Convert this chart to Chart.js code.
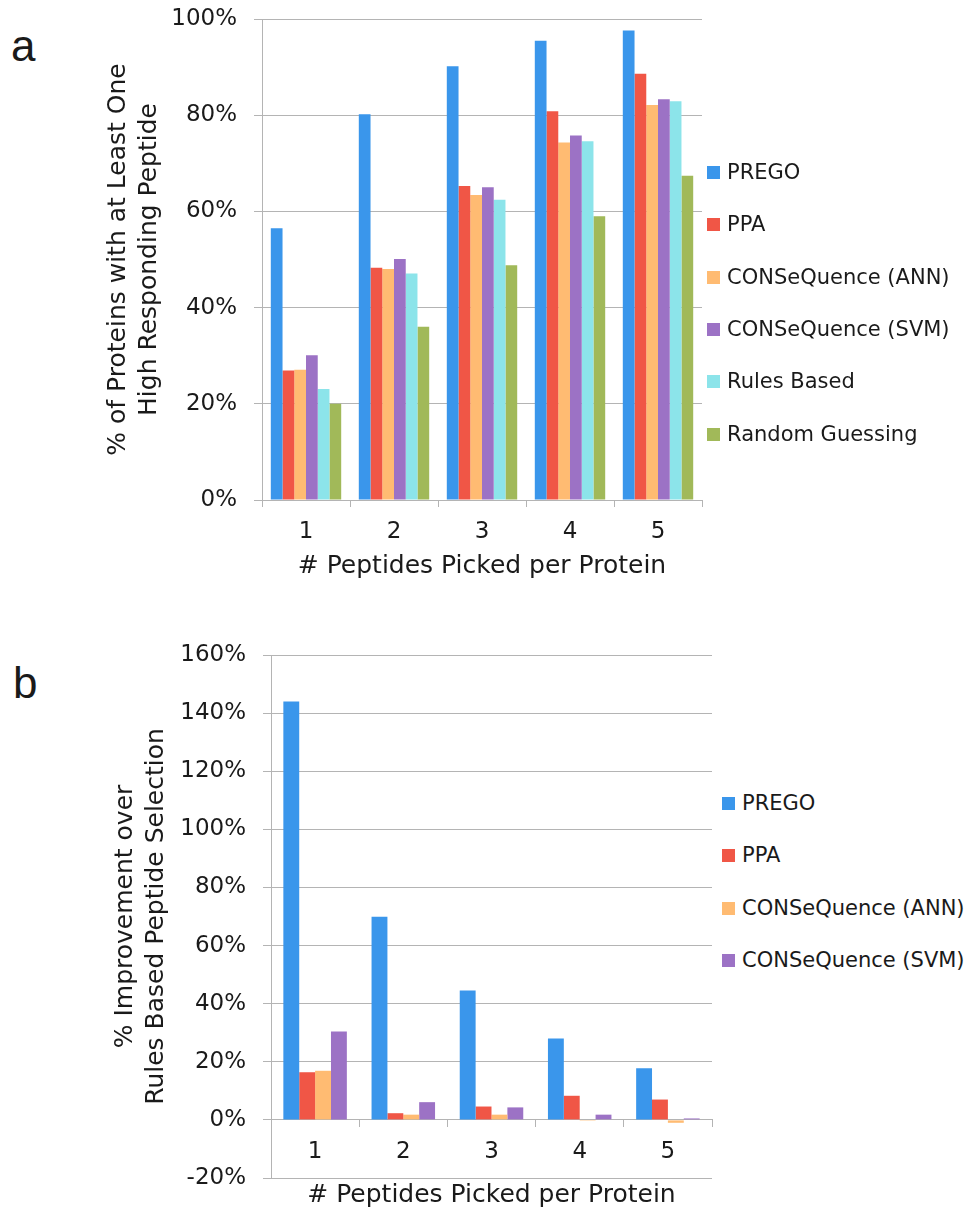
<!DOCTYPE html>
<html>
<head>
<meta charset="utf-8">
<script src="https://cdn.jsdelivr.net/npm/chart.js@4.4.1/dist/chart.umd.min.js"></script>
<style>
  body { margin: 0; background: #fff; width: 968px; height: 1213px; position: relative; overflow: hidden; font-family: "DejaVu Sans", sans-serif; color: #1a1a1a; }
  canvas { position: absolute; left: 0; }
  .panel { position: absolute; font-size: 44px; line-height: 1; font-family: "Liberation Sans", Arial, sans-serif; }
  .legend { position: absolute; font-size: 21px; }
  .legend div { position: absolute; left: 0; white-space: nowrap; height: 26px; line-height: 26px; }
  .legend span { display: inline-block; width: 13px; height: 13px; margin-right: 7px; vertical-align: 0px; }
</style>
</head>
<body>
<div class="panel" style="left:11px;top:24px">a</div>
<div class="panel" style="left:13px;top:661px">b</div>
<canvas id="chartA" width="720" height="600" style="top:0"></canvas>
<canvas id="chartB" width="720" height="583" style="top:630px"></canvas>
<div class="legend" id="legendA" style="left:707px;top:159px"></div>
<div class="legend" id="legendB" style="left:722px;top:790px"></div>
<script>
const categories = ['1', '2', '3', '4', '5'];
const seriesNames = ['PREGO', 'PPA', 'CONSeQuence (ANN)', 'CONSeQuence (SVM)', 'Rules Based', 'Random Guessing'];
const seriesColors = ['#3a96eb', '#f05646', '#ffbb72', '#9c72c5', '#8ce4ea', '#a1b959'];

// panel a: % of proteins with at least one high responding peptide
const pregoA = [56.5, 80.2, 90.2, 95.5, 97.6];
const ppaA = [26.9, 48.3, 65.3, 80.8, 88.6];
const annA = [27.1, 48.0, 63.4, 74.3, 82.1];
const svmA = [30.1, 50.1, 65.0, 75.8, 83.3];
const rulesA = [23.1, 47.1, 62.4, 74.6, 82.9];
const randomA = [20.0, 36.0, 48.8, 59.0, 67.4];

// panel b: % improvement over rules based selection
const pregoB = [144.0, 69.9, 44.5, 28.0, 17.8];
const ppaB = [16.4, 2.3, 4.6, 8.3, 7.0];
const annB = [16.9, 1.8, 1.8, -0.3, -1.0];
const svmB = [30.4, 6.1, 4.3, 1.8, 0.5];

const gridColor = '#b4b4b4';
const textColor = '#1a1a1a';
const fontFamily = '"DejaVu Sans", sans-serif';

function makeSets(arrays) {
  return arrays.map((d, i) => ({
    label: seriesNames[i],
    data: d,
    backgroundColor: seriesColors[i],
    borderWidth: 0
  }));
}

function buildLegend(id, count) {
  const el = document.getElementById(id);
  for (let i = 0; i < count; i++) {
    const row = document.createElement('div');
    row.style.top = (i * 52.3) + 'px';
    row.innerHTML = '<span style="background:' + seriesColors[i] + '"></span>' + seriesNames[i];
    el.appendChild(row);
  }
}

function chartOptions(o) {
  return {
    responsive: false,
    animation: false,
    devicePixelRatio: 1,
    layout: { padding: o.padding },
    plugins: { legend: { display: false }, tooltip: { enabled: false } },
    datasets: { bar: { categoryPercentage: o.catPct, barPercentage: 1.0 } },
    scales: {
      x: {
        position: o.xPos,
        grid: { drawOnChartArea: false, drawTicks: true, tickLength: 7, color: gridColor, offset: true },
        border: { display: true, color: gridColor },
        ticks: { color: textColor, padding: 11, font: { family: fontFamily, size: 23 } },
        title: { display: true, text: '# Peptides Picked per Protein', color: textColor,
                 font: { family: fontFamily, size: 25 }, padding: o.xTitlePad },
        afterFit: s => { s.height = o.xHeight; }
      },
      y: {
        min: o.min, max: o.max,
        ticks: { stepSize: 20, color: textColor, padding: 17,
                 font: { family: fontFamily, size: 23 }, callback: v => v + '%' },
        grid: { color: gridColor, tickLength: 8 },
        border: { display: true, color: gridColor },
        title: { display: true, text: o.yTitle, color: textColor,
                 font: { family: fontFamily, size: 25, lineHeight: 1.25 }, padding: { top: o.yTitlePad, bottom: 0 } },
        afterFit: s => { s.width = o.yWidth; s.paddingTop = 0; s.paddingBottom = 0; }
      }
    }
  };
}

new Chart(document.getElementById('chartA'), {
  type: 'bar',
  data: { labels: categories, datasets: makeSets([pregoA, ppaA, annA, svmA, rulesA, randomA]) },
  options: chartOptions({
    padding: { top: 19, right: 18, bottom: 0, left: 0 },
    catPct: 0.8, xPos: 'bottom', xHeight: 100, xTitlePad: { top: 0, bottom: 19 },
    min: 0, max: 100, yWidth: 262, yTitlePad: 103,
    yTitle: ['% of Proteins with at Least One', 'High Responding Peptide']
  })
});

new Chart(document.getElementById('chartB'), {
  type: 'bar',
  data: { labels: categories, datasets: makeSets([pregoB, ppaB, annB, svmB]) },
  options: chartOptions({
    padding: { top: 25, right: 8, bottom: 35, left: 0 },
    catPct: 0.72, xPos: { y: 0 }, xHeight: 91, xTitlePad: { top: 0, bottom: 0 },
    min: -20, max: 160, yWidth: 271, yTitlePad: 110,
    yTitle: ['% Improvement over', 'Rules Based Peptide Selection']
  })
});

buildLegend('legendA', 6);
buildLegend('legendB', 4);
</script>
</body>
</html>
